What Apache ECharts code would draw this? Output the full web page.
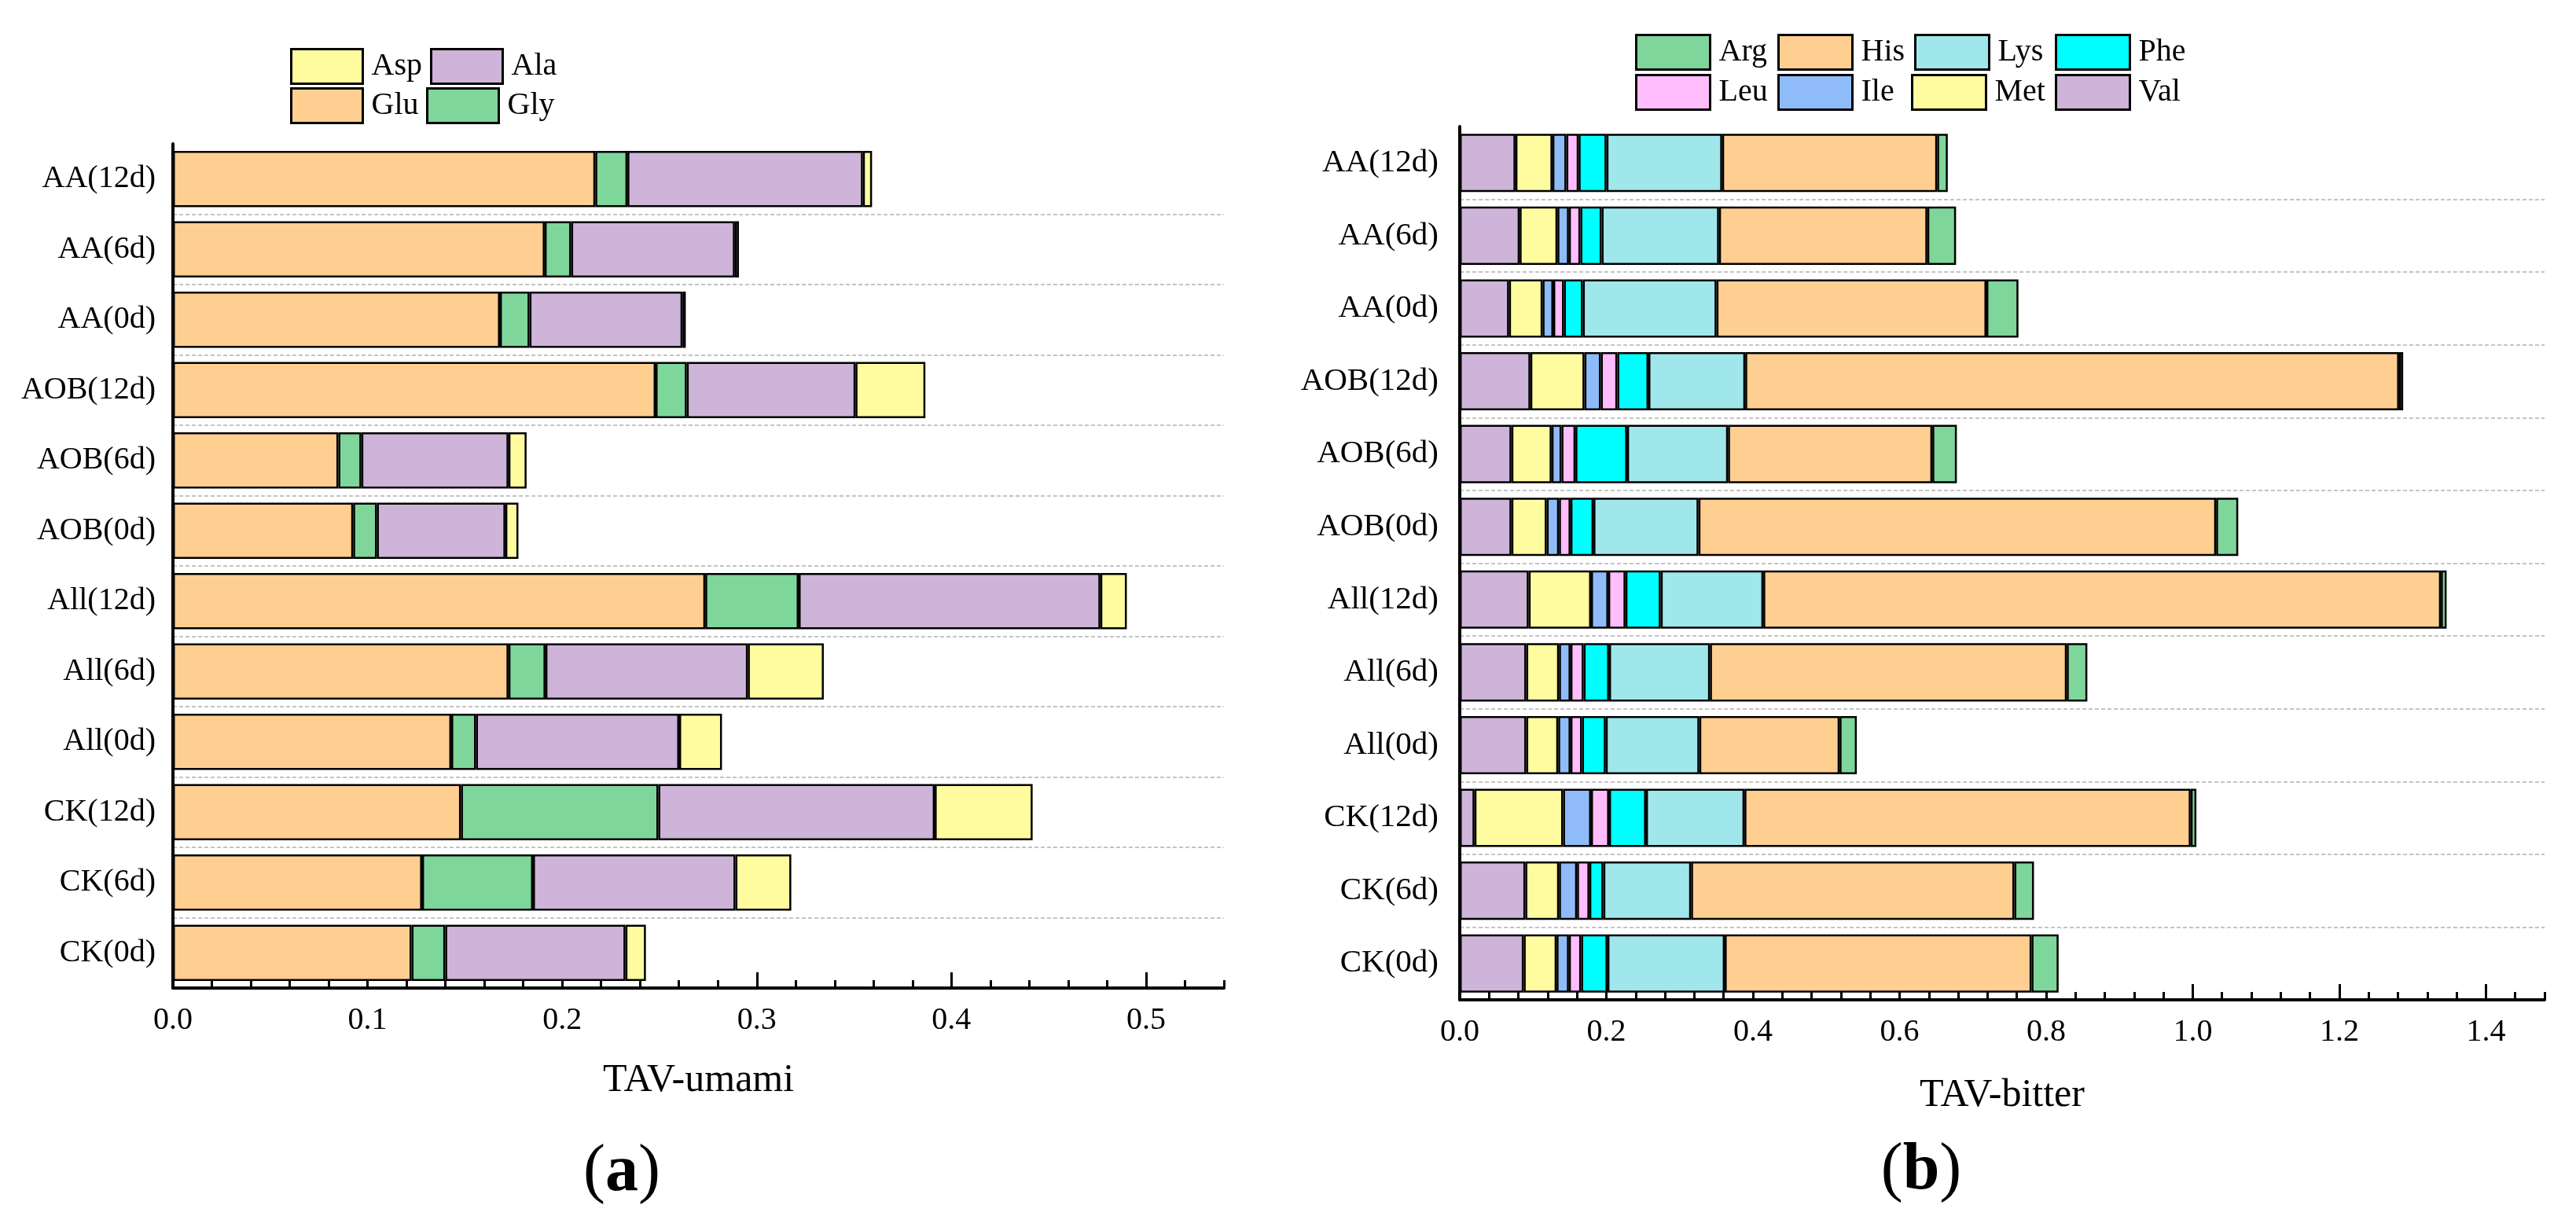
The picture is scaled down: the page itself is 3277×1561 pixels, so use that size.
<!DOCTYPE html>
<html><head><meta charset="utf-8">
<script src="https://cdn.jsdelivr.net/npm/echarts@6/dist/echarts.min.js"></script>
<style>html,body{margin:0;padding:0;background:#fff}#c{width:3277px;height:1561px}</style>
</head><body><div id="c"></div>
<script>
// ---------- data ----------
const categories = ['AA(12d)','AA(6d)','AA(0d)','AOB(12d)','AOB(6d)','AOB(0d)','All(12d)','All(6d)','All(0d)','CK(12d)','CK(6d)','CK(0d)'];

// (a) TAV-umami
const Glu = [0.217, 0.191, 0.168, 0.248, 0.085, 0.0926, 0.2735, 0.1724, 0.143, 0.148, 0.128, 0.1226];
const Gly = [0.0165, 0.0136, 0.0152, 0.016, 0.0118, 0.0122, 0.048, 0.019, 0.0127, 0.1014, 0.057, 0.0173];
const Ala = [0.121, 0.0841, 0.0786, 0.0867, 0.0756, 0.066, 0.155, 0.104, 0.1044, 0.142, 0.104, 0.0926];
const Asp = [0.0047, 0.0021, 0.0017, 0.0359, 0.0093, 0.0067, 0.0136, 0.039, 0.022, 0.0503, 0.0287, 0.0105];

// (b) TAV-bitter
const Val = [0.076, 0.0817, 0.0672, 0.0963, 0.0705, 0.0705, 0.094, 0.0907, 0.0907, 0.0201, 0.0895, 0.0873];
const Met = [0.0504, 0.0515, 0.0458, 0.0738, 0.0548, 0.0481, 0.0851, 0.0447, 0.0436, 0.1209, 0.0459, 0.0448];
const Ile = [0.019, 0.0157, 0.0146, 0.0224, 0.0135, 0.0168, 0.0235, 0.0157, 0.0168, 0.0381, 0.0246, 0.0168];
const Leu = [0.0168, 0.0156, 0.0145, 0.0224, 0.019, 0.0157, 0.0235, 0.0179, 0.0157, 0.0246, 0.0168, 0.0167];
const Phe = [0.038, 0.0291, 0.0258, 0.0425, 0.0705, 0.0313, 0.0481, 0.0347, 0.0324, 0.0504, 0.0191, 0.0359];
const Lys = [0.1578, 0.1601, 0.1824, 0.1321, 0.1377, 0.1433, 0.1399, 0.1377, 0.1276, 0.1343, 0.1197, 0.16];
const His = [0.2933, 0.2842, 0.3682, 0.892, 0.2787, 0.7062, 0.9245, 0.4868, 0.1914, 0.6088, 0.441, 0.4186];
const Arg = [0.0145, 0.0392, 0.0437, 0.0056, 0.0335, 0.0302, 0.0078, 0.028, 0.0235, 0.0078, 0.0268, 0.0369];

const umamiTicks = ['0.0','0.1','0.2','0.3','0.4','0.5'];
const bitterTicks = ['0.0','0.2','0.4','0.6','0.8','1.0','1.2','1.4'];

// ---------- style / layout ----------
const FONT = 'Liberation Serif';
const COL = {orange:'#FFCF91', green:'#7FD69A', purple:'#CDB4D8', yellow:'#FFFC9F',
             lys:'#A0E7EC', phe:'#00FFFF', leu:'#FFBDFD', ile:'#8FBCF8'};

const LA = {left:220, top:183, width:1337, height:1074, max:0.54, minor:0.02, major:0.1, majorMax:0.5};
const LB = {left:1857, top:161, width:1380, height:1111, max:1.48, minor:0.04, major:0.2, majorMax:1.4};

const chart = echarts.init(document.getElementById('c'), null, {renderer:'canvas'});

function grids(L){
  return [
    {left:L.left, top:L.top, width:L.width, height:L.height},
    {left:L.left, top:L.top, width:L.width*L.majorMax/L.max, height:L.height}
  ];
}
function xAxes(L, gi, name, nameGap, ticks){
  return [
    {gridIndex:gi, type:'value', min:0, max:L.max, interval:L.minor, position:'bottom',
     axisLine:{show:true, onZero:false, lineStyle:{color:'#000', width:4}},
     axisTick:{show:true, inside:true, length:10, lineStyle:{color:'#000', width:3}},
     axisLabel:{show:false}, splitLine:{show:false},
     name:name, nameLocation:'middle', nameGap:nameGap,
     nameTextStyle:{fontFamily:FONT, fontSize:50, color:'#000'}},
    {gridIndex:gi+1, type:'value', min:0, max:L.majorMax, interval:L.major, position:'bottom',
     axisLine:{show:false, onZero:false},
     axisTick:{show:true, inside:true, length:20, lineStyle:{color:'#000', width:3}},
     axisLabel:{show:true, margin:21, fontFamily:FONT, fontSize:40, color:'#000',
       formatter:function(v){ const i=Math.round(v/L.major); return ticks[i]!==undefined?ticks[i]:''; }},
     splitLine:{show:false}}
  ];
}
function yAxes(gi, margin, fs){
  return [
    {gridIndex:gi, type:'category', data:categories, inverse:true,
     axisLine:{show:true, onZero:false, lineStyle:{color:'#000', width:4}},
     axisTick:{show:false},
     axisLabel:{margin:margin, fontFamily:FONT, fontSize:fs, color:'#000'},
     splitLine:{show:true, interval:function(i){return i!==0;},
       lineStyle:{color:'#c4c4c4', width:2, type:[5,3]}}},
    {gridIndex:gi+1, type:'category', data:categories, inverse:true, show:false}
  ];
}
function bar(name, data, color, ai){
  return {name:name, type:'bar', stack:'s'+ai, xAxisIndex:ai, yAxisIndex:ai, data:data,
    barCategoryGap:'20%', itemStyle:{color:color, borderColor:'#000', borderWidth:2.5},
    emphasis:{disabled:true}, animation:false};
}
function legendItem(name, left, top, w){
  return {data:[name], left:left, top:top, orient:'horizontal', padding:0, itemGap:0,
    itemWidth:w, itemHeight:44, icon:'rect', selectedMode:false,
    itemStyle:{borderColor:'#000', borderWidth:3},
    textStyle:{fontFamily:FONT, fontSize:40, color:'#000', padding:[0,0,0,6]}};
}
const legendLayout = [
  ['Asp',369,61,91],['Ala',547,61,91],['Glu',369,111,91],['Gly',542,111,91],
  ['Arg',2080,43,94],['His',2261,43,94],['Lys',2435,43,94],['Phe',2614,43,94],
  ['Leu',2080,94,94],['Ile',2261,94,94],['Met',2431,94,94],['Val',2614,94,94]
];

const option = {
  backgroundColor:'#fff',
  animation:false,
  grid: grids(LA).concat(grids(LB)),
  xAxis: xAxes(LA, 0, 'TAV-umami', 93, umamiTicks).concat(xAxes(LB, 2, 'TAV-bitter', 97, bitterTicks)),
  yAxis: yAxes(0, 22, 40).concat(yAxes(2, 27, 41)),
  legend: legendLayout.map(function(l){ return legendItem(l[0], l[1], l[2], l[3]); }),
  series: [
    bar('Glu', Glu, COL.orange, 0),
    bar('Gly', Gly, COL.green, 0),
    bar('Ala', Ala, COL.purple, 0),
    bar('Asp', Asp, COL.yellow, 0),
    bar('Val', Val, COL.purple, 2),
    bar('Met', Met, COL.yellow, 2),
    bar('Ile', Ile, COL.ile, 2),
    bar('Leu', Leu, COL.leu, 2),
    bar('Phe', Phe, COL.phe, 2),
    bar('Lys', Lys, COL.lys, 2),
    bar('His', His, COL.orange, 2),
    bar('Arg', Arg, COL.green, 2)
  ],
  graphic: [
    {type:'text', x:791, y:1492, style:{text:'{p|(}{b|a}{p|)}', align:'center', verticalAlign:'middle',
      textAlign:'center', textVerticalAlign:'middle',
      rich:{p:{fontFamily:FONT, fontSize:84, fill:'#000'}, b:{fontFamily:FONT, fontSize:84, fontWeight:'bold', fill:'#000'}}}},
    {type:'text', x:2444, y:1490, style:{text:'{p|(}{b|b}{p|)}', align:'center', verticalAlign:'middle',
      textAlign:'center', textVerticalAlign:'middle',
      rich:{p:{fontFamily:FONT, fontSize:84, fill:'#000'}, b:{fontFamily:FONT, fontSize:84, fontWeight:'bold', fill:'#000'}}}}
  ]
};
chart.setOption(option);
</script></body></html>
